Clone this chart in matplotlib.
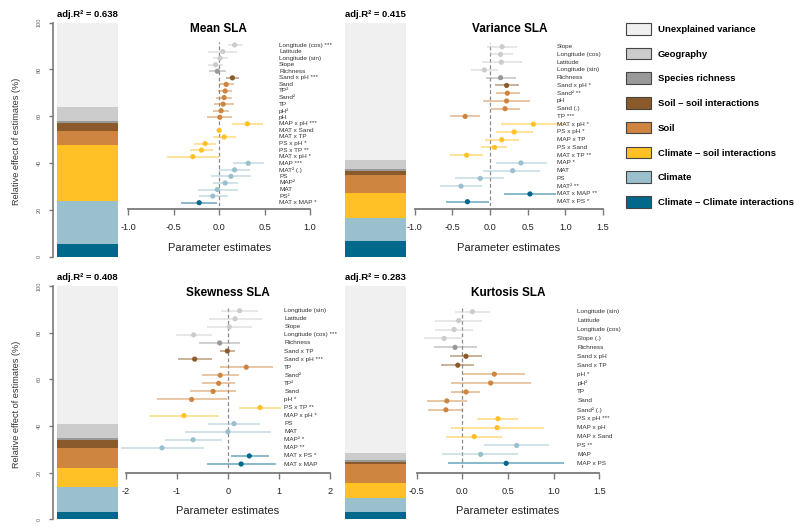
import matplotlib
matplotlib.use('Agg')
import matplotlib.pyplot as plt
from matplotlib.patches import Patch
from matplotlib.transforms import blended_transform_factory

plt.rcParams['font.family'] = ['Liberation Sans', 'DejaVu Sans']
plt.rcParams['axes.unicode_minus'] = False

W, H = 800, 532

# %% groups (bar stacking order: bottom -> top, unexplained last)
group_keys = ['cc', 'clim', 'cs', 'soil', 'ss', 'rich', 'geo']
group_colors = {'unexpl': '#F0F0F0', 'geo': '#CCCCCC', 'rich': '#999999',
                'ss': '#8B5A2B', 'soil': '#CD853F', 'cs': '#FFC125',
                'clim': '#9AC0CD', 'cc': '#00688B'}
legend_keys = ['unexpl', 'geo', 'rich', 'ss', 'soil', 'cs', 'clim', 'cc']
legend_names = ['Unexplained variance', 'Geography', 'Species richness',
                'Soil \u2013 soil interactions', 'Soil',
                'Climate \u2013 soil interactions', 'Climate',
                'Climate \u2013 Climate interactions']

# %% data : Mean SLA
mean_labels = ['Longitude (cos) ***', 'Latitude', 'Longitude (sin)', 'Slope', 'Richness',
               'Sand x pH ***', 'Sand', 'TP\u00b2', 'Sand\u00b2', 'TP', 'pH\u00b2', 'pH',
               'MAP x pH ***', 'MAT x Sand', 'MAT x TP', 'PS x pH *', 'PS x TP **', 'MAT x pH *',
               'MAP ***', 'MAT\u00b2 (.)', 'PS', 'MAP\u00b2', 'MAT', 'PS\u00b2', 'MAT x MAP *']
mean_est = [0.17, 0.04, 0.01, -0.04, -0.02, 0.146, 0.077, 0.066, 0.055, 0.044, 0.022, 0.007,
            0.31, 0.0, 0.055, -0.154, -0.194, -0.29, 0.32, 0.17, 0.13, 0.066, -0.02, -0.07, -0.22]
mean_lo = [0.10, -0.12, -0.07, -0.12, -0.11, 0.08, 0.0, -0.015, -0.03, -0.06, -0.07, -0.135,
           0.14, -0.01, -0.07, -0.275, -0.32, -0.575, 0.15, 0.0, -0.09, -0.07, -0.23, -0.22, -0.42]
mean_hi = [0.26, 0.20, 0.095, 0.04, 0.07, 0.22, 0.16, 0.146, 0.14, 0.16, 0.11, 0.146,
           0.48, 0.01, 0.19, -0.03, -0.07, 0.0, 0.49, 0.34, 0.35, 0.21, 0.21, 0.095, -0.02]
mean_grp = ['geo'] * 4 + ['rich'] + ['ss'] + ['soil'] * 6 + ['cs'] * 6 + ['clim'] * 6 + ['cc']
mean_share = [5.3, 18.5, 23.9, 6.0, 3.6, 0.7, 5.8]

# %% data : Variance SLA
var_labels = ['Slope', 'Longitude (cos)', 'Latitude', 'Longitude (sin)', 'Richness',
              'Sand x pH *', 'Sand\u00b2 **', 'pH', 'Sand (.)', 'TP ***',
              'MAT x pH *', 'PS x pH *', 'MAP x TP', 'PS x Sand', 'MAT x TP **',
              'MAP *', 'MAT', 'PS', 'MAT\u00b2 **', 'MAT x MAP **', 'MAT x PS *']
var_est = [0.16, 0.14, 0.15, -0.075, 0.14, 0.22, 0.23, 0.22, 0.2, -0.33,
           0.575, 0.32, 0.155, 0.06, -0.31, 0.41, 0.3, -0.13, -0.385, 0.53, -0.30]
var_lo = [-0.04, 0.0, -0.11, -0.25, -0.06, 0.06, 0.08, -0.09, 0.01, -0.53,
          0.15, 0.075, -0.07, -0.12, -0.53, 0.08, -0.09, -0.46, -0.66, 0.19, -0.58]
var_hi = [0.36, 0.30, 0.42, 0.11, 0.35, 0.38, 0.40, 0.53, 0.40, -0.13,
          1.0, 0.57, 0.38, 0.23, -0.09, 0.75, 0.67, 0.19, -0.10, 0.87, -0.01]
var_grp = ['geo'] * 4 + ['rich'] + ['ss'] + ['soil'] * 4 + ['cs'] * 5 + ['clim'] * 4 + ['cc'] * 2
var_share = [6.9, 9.5, 11.0, 7.5, 1.7, 1.0, 3.9]

# %% data : Skewness SLA
skew_labels = ['Longitude (sin)', 'Latitude', 'Slope', 'Longitude (cos) ***', 'Richness',
               'Sand x TP', 'Sand x pH ***', 'TP', 'Sand\u00b2', 'TP\u00b2', 'Sand', 'pH *',
               'PS x TP **', 'MAP x pH *', 'PS', 'MAT', 'MAP\u00b2 *', 'MAP **',
               'MAT x PS *', 'MAT x MAP']
skew_est = [0.23, 0.14, 0.03, -0.67, -0.16, -0.01, -0.65, 0.36, -0.15, -0.18, -0.29, -0.71,
            0.63, -0.86, 0.12, 0.0, -0.68, -1.29, 0.42, 0.26]
skew_lo = [-0.13, -0.37, -0.40, -1.01, -0.56, -0.16, -0.97, -0.16, -0.51, -0.51, -0.74, -1.39,
           0.22, -1.54, -0.38, -0.84, -1.23, -2.10, 0.07, -0.40]
skew_hi = [0.59, 0.67, 0.47, -0.31, 0.24, 0.14, -0.31, 0.88, 0.22, 0.14, 0.16, -0.02,
           1.05, -0.17, 0.62, 0.84, -0.12, -0.46, 0.80, 0.95]
skew_grp = ['geo'] * 4 + ['rich'] + ['ss'] * 2 + ['soil'] * 5 + ['cs'] * 2 + ['clim'] * 4 + ['cc'] * 2
skew_share = [3.3, 10.7, 7.9, 8.8, 3.3, 1.0, 5.8]

# %% data : Kurtosis SLA
kurt_labels = ['Longitude (sin)', 'Latitude', 'Longitude (cos)', 'Slope (.)', 'Richness',
               'Sand x pH', 'Sand x TP', 'pH *', 'pH\u00b2', 'TP', 'Sand', 'Sand\u00b2 (.)',
               'PS x pH ***', 'MAP x pH', 'MAP x Sand', 'PS **', 'MAP', 'MAP x PS']
kurt_est = [0.11, -0.04, -0.09, -0.20, -0.08, 0.04, -0.05, 0.35, 0.31, 0.04, -0.17, -0.18,
            0.39, 0.38, 0.13, 0.595, 0.20, 0.48]
kurt_lo = [-0.08, -0.30, -0.30, -0.42, -0.31, -0.14, -0.23, 0.0, -0.12, -0.12, -0.39, -0.38,
           0.16, -0.12, -0.18, 0.24, -0.22, -0.16]
kurt_hi = [0.30, 0.22, 0.12, 0.0, 0.16, 0.22, 0.13, 0.69, 0.75, 0.19, 0.05, 0.0,
           0.61, 0.89, 0.43, 0.95, 0.61, 1.11]
kurt_grp = ['geo'] * 4 + ['rich'] + ['ss'] * 2 + ['soil'] * 5 + ['cs'] * 3 + ['clim'] * 2 + ['cc']
kurt_share = [3.3, 6.0, 6.4, 8.0, 0.9, 0.7, 3.0]

adj_r2 = [0.638, 0.415, 0.408, 0.283]
titles = ['Mean SLA', 'Variance SLA', 'Skewness SLA', 'Kurtosis SLA']
x_ticks = [[-1.0, -0.5, 0.0, 0.5, 1.0],
           [-1.0, -0.5, 0.0, 0.5, 1.0, 1.5],
           [-2, -1, 0, 1, 2],
           [-0.5, 0.0, 0.5, 1.0, 1.5]]
x_fmt = ['{:.1f}', '{:.1f}', '{:.0f}', '{:.1f}']

# %% layout (pixel boxes)
# bar: left, right, top(100%), bottom(0%), show y axis
bar_box = [(57, 118, 22.7, 256.7, True), (345, 405.5, 22.7, 256.7, False),
           (57, 118, 286, 519.3, True), (345, 405.5, 286, 519.3, False)]
# forest: x px of first/last tick, first row y, last row y, axis y, label x
forest_box = [(128.3, 310, 45, 202.7, 209, 279),
              (414.7, 603, 46.7, 201.7, 209, 556.7),
              (125.7, 330, 310.7, 464, 472.7, 284.3),
              (416.7, 599.3, 311.7, 463.3, 472.7, 577.3)]
title_pos = [(218, 29), (510, 29), (228, 292.7), (508, 292.7)]
xlab_y = [247.7, 247.7, 510.7, 510.7]

panels = [(mean_labels, mean_est, mean_lo, mean_hi, mean_grp, mean_share),
          (var_labels, var_est, var_lo, var_hi, var_grp, var_share),
          (skew_labels, skew_est, skew_lo, skew_hi, skew_grp, skew_share),
          (kurt_labels, kurt_est, kurt_lo, kurt_hi, kurt_grp, kurt_share)]


def px_box(l, t, r, b):
    return [l / W, 1 - b / H, (r - l) / W, (b - t) / H]


fig = plt.figure(figsize=(W / 100, H / 100), dpi=100)
axis_grey = '#7a7a7a'

for i, (labels, est, lo, hi, grp, share) in enumerate(panels):
    # ---- stacked bar of relative effects
    l, r, t, b, show_y = bar_box[i]
    axb = fig.add_axes(px_box(l, t, r, b))
    bottom = 0
    for key, val in zip(group_keys, share):
        axb.bar(0, val, bottom=bottom, width=1, color=group_colors[key], lw=0)
        bottom += val
    axb.bar(0, 100 - bottom, bottom=bottom, width=1, color=group_colors['unexpl'], lw=0)
    axb.set_xlim(-0.5, 0.5)
    axb.set_ylim(0, 100)
    axb.set_xticks([])
    for s in ['top', 'right', 'bottom']:
        axb.spines[s].set_visible(False)
    if show_y:
        axb.spines['left'].set_position(('outward', 2.9))
        axb.spines['left'].set_color(axis_grey)
        axb.spines['left'].set_linewidth(1.2)
        axb.set_yticks([0, 20, 40, 60, 80, 100])
        axb.tick_params(axis='y', length=2.9, width=1, color=axis_grey, pad=5,
                        labelsize=4, labelcolor='#666666', labelrotation=90)
        for lab in axb.get_yticklabels():
            lab.set_va('center')
    else:
        axb.spines['left'].set_visible(False)
        axb.set_yticks([])
    axb.set_title('adj.R\u00b2 = {:.3f}'.format(adj_r2[i]), fontsize=6.8,
                  fontweight='bold', pad=4.3)

    # ---- forest plot of parameter estimates
    x0, x1, ytop, ybot, yaxis, labx = forest_box[i]
    n = len(labels)
    step = (ybot - ytop) / (n - 1)
    axf = fig.add_axes(px_box(x0, ytop - step / 2, x1, ybot + step / 2))
    axf.patch.set_alpha(0)
    ticks = x_ticks[i]
    axf.set_xlim(ticks[0], ticks[-1])
    axf.set_ylim(n - 0.5, -0.5)
    rows = list(range(n))
    cols = [group_colors[g] for g in grp]
    axf.axvline(0, color='#8a8a8a', lw=0.9, ls=(0, (3, 2)), zorder=1)
    axf.hlines(rows, lo, hi, colors=cols, lw=1.3, alpha=0.5, zorder=2, clip_on=False)
    axf.scatter(est, rows, c=cols, s=14, lw=0, zorder=3, clip_on=False)
    for s in ['top', 'right', 'left']:
        axf.spines[s].set_visible(False)
    axf.spines['bottom'].set_position(('outward', (yaxis - ybot - step / 2) * 0.72))
    axf.spines['bottom'].set_color(axis_grey)
    axf.spines['bottom'].set_linewidth(1.3)
    axf.set_yticks([])
    axf.set_xticks(ticks)
    axf.set_xticklabels([x_fmt[i].format(v) for v in ticks])
    axf.tick_params(axis='x', length=4.3, width=1, color=axis_grey, pad=6,
                    labelsize=6.6, labelcolor='#222222')
    tr = blended_transform_factory(fig.transFigure, axf.transData)
    for y, lab in zip(rows, labels):
        axf.text(labx / W, y, lab, transform=tr, fontsize=4.6, color='#333333',
                 va='center', ha='left')

    tx, ty = title_pos[i]
    fig.text(tx / W, 1 - ty / H, titles[i], fontsize=8.5, fontweight='bold',
             ha='center', va='center')
    fig.text((x0 + x1) / 2 / W, 1 - xlab_y[i] / H, 'Parameter estimates', fontsize=8,
             color='#222222', ha='center', va='center')

# y-axis titles
for yc in [141, 404]:
    fig.text(17 / W, 1 - yc / H, 'Relative effect of estimates (%)', fontsize=6.6,
             color='#333333', rotation=90, ha='center', va='center')

# legend
handles = [Patch(facecolor=group_colors[k], edgecolor='#444444', lw=0.8, label=nm)
           for k, nm in zip(legend_keys, legend_names)]
fig.legend(handles=handles, loc='upper left', bbox_to_anchor=(626 / W, 1 - 23 / H),
           frameon=False, borderpad=0, borderaxespad=0, handlelength=2.65,
           handleheight=1.5, labelspacing=1.4, handletextpad=0.75,
           prop={'weight': 'bold', 'size': 6.8})

fig.savefig('out.png', dpi=100)
